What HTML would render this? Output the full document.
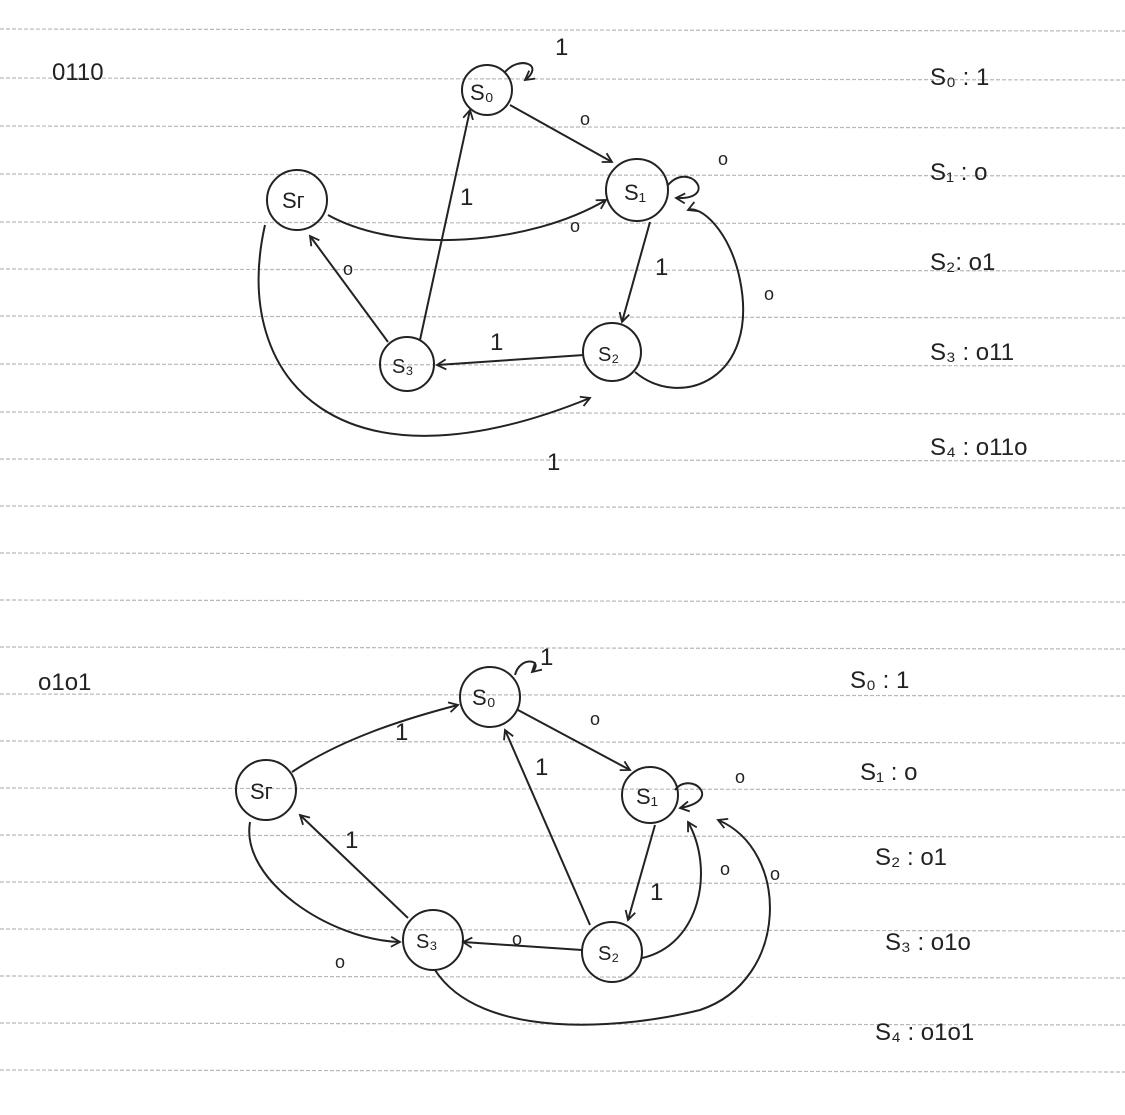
<!DOCTYPE html>
<html><head><meta charset="utf-8"><style>
html,body{margin:0;padding:0;background:#fff;}
svg{display:block;}
text{font-family:"Liberation Sans",sans-serif;fill:#222;}
</style></head><body>
<svg width="1125" height="1115" viewBox="0 0 1125 1115">
<g stroke="#b8b8b8" stroke-width="1.2" stroke-dasharray="4 2">
<line x1="0" y1="29" x2="1125" y2="31"/><line x1="0" y1="78" x2="1125" y2="80"/><line x1="0" y1="126" x2="1125" y2="128"/><line x1="0" y1="174" x2="1125" y2="176"/><line x1="0" y1="222" x2="1125" y2="224"/><line x1="0" y1="269" x2="1125" y2="271"/><line x1="0" y1="316" x2="1125" y2="318"/><line x1="0" y1="364" x2="1125" y2="366"/><line x1="0" y1="412" x2="1125" y2="414"/><line x1="0" y1="459" x2="1125" y2="461"/><line x1="0" y1="506" x2="1125" y2="508"/><line x1="0" y1="553" x2="1125" y2="555"/><line x1="0" y1="600" x2="1125" y2="602"/><line x1="0" y1="647" x2="1125" y2="649"/><line x1="0" y1="694" x2="1125" y2="696"/><line x1="0" y1="741" x2="1125" y2="743"/><line x1="0" y1="788" x2="1125" y2="790"/><line x1="0" y1="835" x2="1125" y2="837"/><line x1="0" y1="882" x2="1125" y2="884"/><line x1="0" y1="929" x2="1125" y2="931"/><line x1="0" y1="976" x2="1125" y2="978"/><line x1="0" y1="1023" x2="1125" y2="1025"/><line x1="0" y1="1070" x2="1125" y2="1072"/>
</g>
<defs><marker id="ah" markerWidth="12" markerHeight="12" refX="10" refY="6" orient="auto" markerUnits="userSpaceOnUse"><path d="M1,1 L10,6 L1,11" fill="none" stroke="#222" stroke-width="1.8"/></marker></defs>
<g fill="none" stroke="#222" stroke-width="2">
<circle cx="487" cy="90" r="25"/>
<circle cx="637" cy="190" r="31"/>
<circle cx="297" cy="200" r="30"/>
<circle cx="407" cy="364" r="27"/>
<circle cx="612" cy="352" r="29"/>
<path d="M505,72 C520,55 545,65 525,80" marker-end="url(#ah)"/>
<path d="M510,105 L612,162" marker-end="url(#ah)"/>
<path d="M668,185 C690,160 720,200 676,198" marker-end="url(#ah)"/>
<path d="M328,215 C400,255 530,245 606,200" marker-end="url(#ah)"/>
<path d="M420,340 L470,110" marker-end="url(#ah)"/>
<path d="M388,342 L310,236" marker-end="url(#ah)"/>
<path d="M650,222 L622,322" marker-end="url(#ah)"/>
<path d="M584,355 L437,365" marker-end="url(#ah)"/>
<path d="M635,372 C680,410 760,380 740,280 C730,230 700,205 688,210" marker-end="url(#ah)"/>
<path d="M265,225 C230,380 340,500 590,398" marker-end="url(#ah)"/>
</g>
<g font-size="24">
<text x="52" y="80">0110</text>
<text x="470" y="100" font-size="22">S₀</text><text x="624" y="200" font-size="22">S₁</text><text x="282" y="208" font-size="22">Sᴦ</text><text x="392" y="373" font-size="20">S₃</text><text x="598" y="361" font-size="20">S₂</text>
<text x="555" y="55">1</text><text x="580" y="125" font-size="18">o</text><text x="718" y="165" font-size="18">o</text><text x="460" y="205">1</text><text x="570" y="232" font-size="18">o</text><text x="343" y="275" font-size="18">o</text><text x="655" y="275">1</text><text x="764" y="300" font-size="18">o</text><text x="490" y="350">1</text><text x="547" y="470">1</text>
<text x="930" y="85">S₀ : 1</text>
<text x="930" y="180">S₁ : o</text>
<text x="930" y="270">S₂: o1</text>
<text x="930" y="360">S₃ : o11</text>
<text x="930" y="455">S₄ : o11o</text>
</g>
<g fill="none" stroke="#222" stroke-width="2">
<circle cx="490" cy="697" r="30"/>
<circle cx="650" cy="795" r="28"/>
<circle cx="266" cy="790" r="30"/>
<circle cx="433" cy="940" r="30"/>
<circle cx="612" cy="952" r="30"/>
<path d="M515,675 C520,655 545,660 532,672" marker-end="url(#ah)"/>
<path d="M292,772 C340,740 400,720 458,705" marker-end="url(#ah)"/>
<path d="M518,710 L630,770" marker-end="url(#ah)"/>
<path d="M675,790 C690,770 725,800 680,808" marker-end="url(#ah)"/>
<path d="M590,925 L505,730" marker-end="url(#ah)"/>
<path d="M655,825 L628,920" marker-end="url(#ah)"/>
<path d="M582,950 L463,942" marker-end="url(#ah)"/>
<path d="M408,918 L300,815" marker-end="url(#ah)"/>
<path d="M250,822 C240,880 330,940 400,942" marker-end="url(#ah)"/>
<path d="M642,958 C700,945 715,870 688,822" marker-end="url(#ah)"/>
<path d="M435,970 C480,1040 620,1030 700,1010 C790,980 790,850 718,820" marker-end="url(#ah)"/>
</g>
<g font-size="24">
<text x="38" y="690">o1o1</text>
<text x="472" y="705" font-size="22">S₀</text><text x="636" y="804" font-size="22">S₁</text><text x="250" y="799" font-size="22">Sᴦ</text><text x="416" y="948" font-size="20">S₃</text><text x="598" y="960" font-size="20">S₂</text>
<text x="540" y="665">1</text><text x="395" y="740">1</text><text x="590" y="725" font-size="18">o</text><text x="735" y="783" font-size="18">o</text><text x="535" y="775">1</text><text x="345" y="848">1</text><text x="650" y="900">1</text><text x="720" y="875" font-size="18">o</text><text x="770" y="880" font-size="18">o</text><text x="512" y="945" font-size="18">o</text><text x="335" y="968" font-size="18">o</text>
<text x="850" y="688">S₀ : 1</text>
<text x="860" y="780">S₁ : o</text>
<text x="875" y="865">S₂ : o1</text>
<text x="885" y="950">S₃ : o1o</text>
<text x="875" y="1040">S₄ : o1o1</text>
</g>
</svg>
</body></html>
